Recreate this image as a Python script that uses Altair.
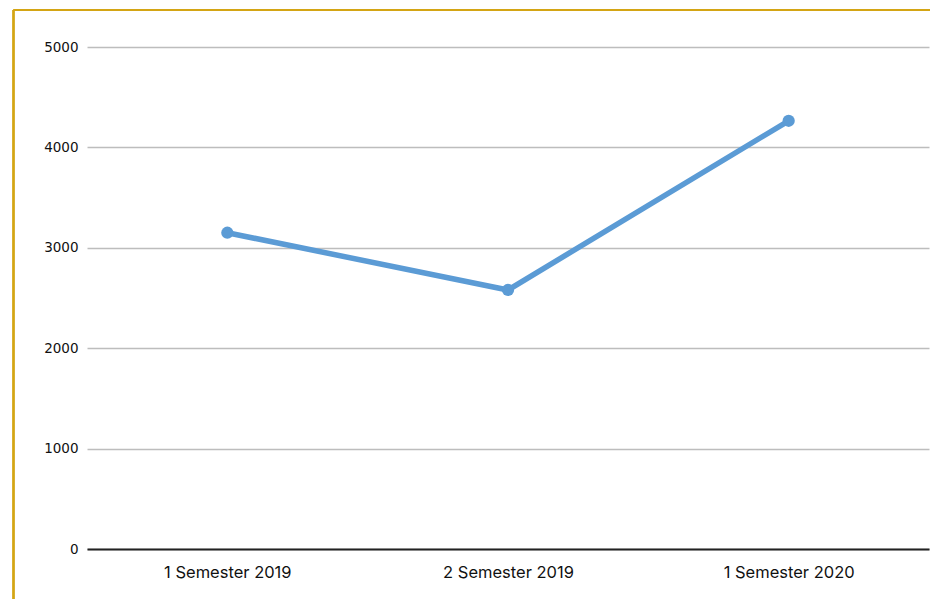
import altair as alt
import pandas as pd

categories = ["1 Semester 2019", "2 Semester 2019", "1 Semester 2020"]
values = [3150, 2580, 4265]
y_ticks = [0, 1000, 2000, 3000, 4000, 5000]

df = pd.DataFrame({"cat": categories, "val": values})

W, H = 842, 502
PL, PT = 79, 39

x = alt.X("cat:N", sort=categories, title=None,
          scale=alt.Scale(type="point", padding=0.5),
          axis=alt.Axis(labelAngle=0, ticks=False, domain=True, domainColor="#222222",
                        domainWidth=2, labelFont="Inter", labelFontSize=16.5,
                        labelColor="#111111", labelPadding=15, grid=False))
y = alt.Y("val:Q", title=None,
          scale=alt.Scale(domain=[0, 5000], nice=False),
          axis=alt.Axis(values=y_ticks, format="d", ticks=False, domain=False, gridColor="#bdbdbd",
                        gridWidth=1.5, labelFont="DejaVu Sans", labelFontSize=13.5,
                        labelColor="#111111", labelPadding=9))

line = alt.Chart(df).mark_line(color="#5b9bd5", strokeWidth=5.5).encode(x=x, y=y)
pts = alt.Chart(df).mark_point(filled=True, color="#5b9bd5", size=150, opacity=1).encode(x=x, y=y)

border_top = alt.Chart(df).mark_rule(color="#d4a514", strokeWidth=2, clip=False).encode(
    x=alt.value(13.5 - 87), x2=alt.value(W + 20), y=alt.value(10 - 47))
border_left = alt.Chart(df).mark_rule(color="#d4a514", strokeWidth=2, clip=False).encode(
    x=alt.value(13.5 - 87), y=alt.value(10 - 47), y2=alt.value(H + 60))

chart = alt.layer(line, pts, border_top, border_left).properties(
    width=W, height=H,
    background="white",
    autosize=alt.AutoSizeParams(type="none"),
    padding={"left": PL, "top": PT, "right": 1, "bottom": 52},
).configure_view(stroke=None)

chart.save("out.html", embed_options={"renderer": "svg", "actions": False})
